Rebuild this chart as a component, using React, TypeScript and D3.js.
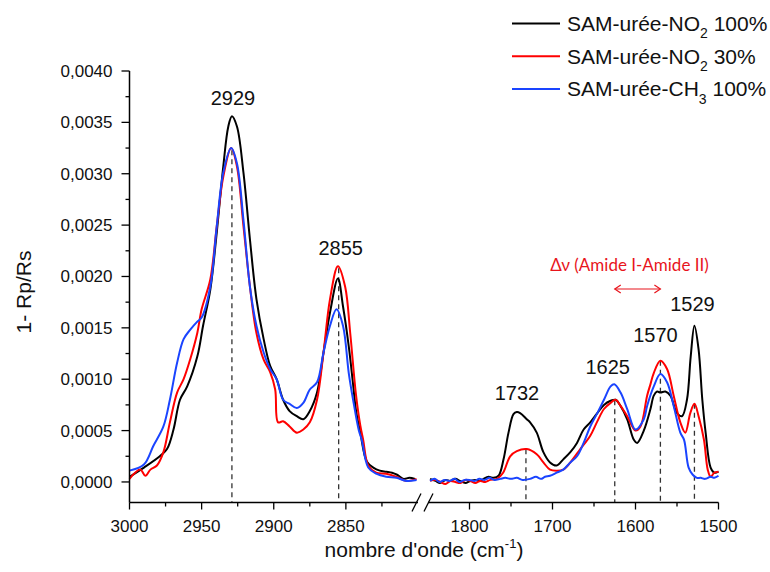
import React from 'react';
import * as d3 from 'd3';

// Broken wavenumber axis: high-frequency (CH stretch) and low-frequency (amide) windows
const HIGH_RANGE: [number, number] = [3000, 2800];
const LOW_RANGE: [number, number] = [1850, 1500];
const HIGH_TICKS = [3000, 2950, 2900, 2850];
const HIGH_MINOR = [2975, 2925, 2875, 2825];
const LOW_TICKS = [1800, 1700, 1600, 1500];
const LOW_MINOR = [1750, 1650, 1550];
const Y_DOMAIN: [number, number] = [-0.0002, 0.004];
const Y_TICKS = [0, 0.0005, 0.001, 0.0015, 0.002, 0.0025, 0.003, 0.0035, 0.004];
const Y_MINOR = [0.00025, 0.00075, 0.00125, 0.00175, 0.00225, 0.00275, 0.00325, 0.00375];

type Pt = [number, number];

// SAM-urée-NO2 100%
const NO2_100_HIGH: Pt[] = [
  [3000, 0.00005], [2990, 0.00014], [2979, 0.00025], [2974, 0.00032], [2969.5, 0.00051],
  [2965, 0.0008], [2960, 0.00093], [2953, 0.00122], [2949, 0.00152], [2944, 0.00187],
  [2939.5, 0.00243], [2935, 0.00307], [2931.5, 0.00346], [2929, 0.00356], [2925.5, 0.00346],
  [2921, 0.00301], [2916.5, 0.00236], [2912, 0.00178], [2907, 0.00139], [2902.5, 0.00113],
  [2898, 0.001], [2893.5, 0.0008], [2889, 0.00069], [2884, 0.00064], [2879.5, 0.00061],
  [2875, 0.00069], [2870, 0.00087], [2865.5, 0.00126], [2861, 0.00165], [2855.5, 0.00198],
  [2852, 0.00171], [2848, 0.00132], [2845, 0.00095], [2843, 0.0007], [2840, 0.00048],
  [2835.5, 0.0002], [2831, 0.00014], [2826.5, 0.00011], [2822, 0.0001], [2818, 0.00009],
  [2814.5, 0.00007], [2810, 0.00003], [2806, 0.00004], [2802, 0.00003],
];
const NO2_100_LOW: Pt[] = [
  [1847.5, 0.00003], [1841, 0.00001], [1835.5, -0.00001], [1829, 0.00002], [1823.5, 0.00001],
  [1817, 0.00003], [1811.5, 0.00001], [1805, -0.00001], [1799, 0.00001], [1793, 0.00002],
  [1787, 0.00001], [1783, 0.00003], [1777, 0.00005], [1771, 0.00004], [1765, 0.00006],
  [1759, 0.00022], [1753, 0.00048], [1747, 0.00066], [1743, 0.00068], [1739, 0.00067],
  [1731, 0.00061], [1727, 0.00058], [1719, 0.00048], [1711, 0.00029], [1703, 0.00019],
  [1695, 0.00016], [1687, 0.00022], [1678.5, 0.00029], [1670.5, 0.00038], [1662.5, 0.00051],
  [1654.5, 0.00058], [1646, 0.00067], [1638, 0.00075], [1630, 0.00079], [1624, 0.0008],
  [1618, 0.00074], [1610, 0.00061], [1602, 0.00041], [1598, 0.00038], [1590, 0.0005],
  [1582, 0.00071], [1578, 0.00084], [1574, 0.00088], [1570, 0.00087], [1564, 0.00088],
  [1558, 0.00084], [1550, 0.00067], [1544, 0.00064], [1538, 0.0008], [1533.5, 0.00122],
  [1529, 0.00152], [1524, 0.00129], [1519.5, 0.0008], [1515.5, 0.00048], [1509.5, 0.00014],
  [1505, 0.00009], [1500, 0.0001],
];

// SAM-urée-NO2 30%
const NO2_30_HIGH: Pt[] = [
  [3000, 0.00003], [2992.5, 0.00012], [2989, 0.00006], [2985.5, 0.00012], [2981, 0.00016],
  [2976.5, 0.00029], [2972, 0.00058], [2967, 0.00087], [2962.5, 0.001], [2958, 0.00119],
  [2953, 0.00145], [2950, 0.00168], [2944, 0.00197], [2939.5, 0.00249], [2935, 0.00297],
  [2929.5, 0.00325], [2925.5, 0.00307], [2921, 0.00249], [2916.5, 0.0019], [2912, 0.00145],
  [2907, 0.00119], [2902.5, 0.00107], [2899, 0.0009], [2897, 0.00058], [2893.5, 0.00059],
  [2889, 0.00054], [2884, 0.00048], [2879.5, 0.00051], [2875, 0.00058], [2870, 0.0008],
  [2865.5, 0.00126], [2861, 0.00178], [2855.5, 0.0021], [2850.5, 0.0019], [2847, 0.00145],
  [2843, 0.00085], [2840, 0.00055], [2838, 0.00041], [2834.5, 0.00016], [2829, 0.00009],
  [2822, 0.00008], [2815, 0.00005], [2808, 0.00001], [2801, 0.00003],
];
const NO2_30_LOW: Pt[] = [
  [1847.5, 0.00001], [1841, 0.00002], [1835, 0], [1829, -0.00002], [1823, 0.00001],
  [1817, 0], [1811, -0.00001], [1805, 0.00002], [1799, 0.00001], [1793, -0.00001],
  [1787, 0.00001], [1781, 0], [1775, 0.00002], [1767, 0.00003], [1759.5, 0.00009],
  [1751, 0.00025], [1743, 0.0003], [1731, 0.00032], [1719, 0.00027], [1711, 0.00019],
  [1703, 0.00012], [1695, 0.00011], [1687, 0.00012], [1678.5, 0.00019], [1666.5, 0.00032],
  [1654.5, 0.00045], [1646, 0.00059], [1638, 0.00071], [1630, 0.00077], [1624, 0.0008],
  [1618, 0.00074], [1610, 0.00064], [1600, 0.0005], [1594, 0.00054], [1586, 0.00084],
  [1582, 0.00095], [1578, 0.00106], [1570, 0.00118], [1562, 0.0011], [1554, 0.00084],
  [1546, 0.00058], [1540, 0.00048], [1534, 0.00067], [1529, 0.00076], [1524, 0.00064],
  [1517.5, 0.00041], [1513, 0.00012], [1509.5, 0.00005], [1505, 0.00009], [1500, 0.0001],
];

// SAM-urée-CH3 100%
const CH3_100_HIGH: Pt[] = [
  [3000, 0.00011], [2990, 0.00017], [2983.5, 0.00035], [2976.5, 0.00054], [2972, 0.0008],
  [2967, 0.00116], [2962.5, 0.00139], [2958, 0.00148], [2953, 0.00156], [2950, 0.0016],
  [2944, 0.0019], [2939.5, 0.00249], [2935, 0.00301], [2929.5, 0.00325], [2925.5, 0.0031],
  [2921, 0.00255], [2916.5, 0.0019], [2912, 0.00152], [2907, 0.00126], [2902.5, 0.0011],
  [2898, 0.001], [2893.5, 0.0008], [2889, 0.00076], [2884, 0.00072], [2879.5, 0.00077],
  [2875, 0.0009], [2870, 0.00097], [2865.5, 0.00126], [2861, 0.00152], [2856.5, 0.00168],
  [2852, 0.00152], [2848, 0.00106], [2845, 0.0008], [2841, 0.0005], [2839, 0.00041],
  [2834.5, 0.00014], [2829, 0.00008], [2822, 0.00005], [2815, 0.00004], [2808, 0.00001],
  [2801, 0.00002],
];
const CH3_100_LOW: Pt[] = [
  [1847.5, 0.00001], [1842, 0.00003], [1836, 0], [1830, 0.00002], [1824, 0.00001],
  [1818, 0.00003], [1812, 0], [1806, 0.00002], [1800, 0.00002], [1794, 0.00001],
  [1788, 0.00003], [1782, 0.00002], [1776, 0.00004], [1770, 0.00002], [1763, 0.00003],
  [1757, 0.00004], [1750, 0.00003], [1743, 0.00004], [1736, 0.00002], [1727, 0.00003],
  [1720, 0.00005], [1714, 0.00003], [1709, 0.00005], [1703, 0.00006], [1695, 0.00009],
  [1687, 0.00012], [1678.5, 0.00019], [1670.5, 0.00025], [1662.5, 0.00038], [1654.5, 0.00054],
  [1646, 0.00067], [1638, 0.0008], [1630, 0.00093], [1625.5, 0.00095], [1618, 0.00087],
  [1610, 0.00071], [1600, 0.00051], [1590, 0.00061], [1586, 0.00074], [1578, 0.00093],
  [1570, 0.00105], [1562, 0.00097], [1554, 0.00074], [1546, 0.00048], [1541.5, 0.00041],
  [1536, 0.00014], [1531, 0.00007], [1526, 0.00004], [1521.5, 0.00004], [1516, 0.00003],
  [1509.5, 0.00005], [1505, 0.00004], [1500, 0.00006],
];

const SERIES_LABELS = [
  { base: 'SAM-urée-NO', sub: '2', tail: ' 100%' },
  { base: 'SAM-urée-NO', sub: '2', tail: ' 30%' },
  { base: 'SAM-urée-CH', sub: '3', tail: ' 100%' },
];
const SERIES_COLORS = ['#000000', '#ff0000', '#1a44ff'];
const SERIES_HIGH = [NO2_100_HIGH, NO2_30_HIGH, CH3_100_HIGH];
const SERIES_LOW = [NO2_100_LOW, NO2_30_LOW, CH3_100_LOW];

// Band positions marked on the spectra (cm-1)
const PEAKS = [2929, 2855, 1732, 1625, 1570, 1529];
// Amide I / Amide II splitting
const AMIDE_PAIR: [number, number] = [1625, 1570];
const AMIDE_LABEL = 'Δν (Amide I-Amide II)';

const FONT = '"Liberation Sans", Arial, Helvetica, sans-serif';

function valueAt(pts: Pt[], w: number): number {
  for (let i = 0; i < pts.length - 1; i++) {
    const [w0, v0] = pts[i];
    const [w1, v1] = pts[i + 1];
    if ((w <= w0 && w >= w1) || (w >= w0 && w <= w1)) {
      const t = w0 === w1 ? 0 : (w - w0) / (w1 - w0);
      return v0 + t * (v1 - v0);
    }
  }
  return pts[pts.length - 1][1];
}

export default function App() {
  const xHigh = d3.scaleLinear().domain(HIGH_RANGE).range([129.5, 418]);
  const xLow = d3.scaleLinear().domain(LOW_RANGE).range([428, 718.5]);
  const y = d3.scaleLinear().domain(Y_DOMAIN).range([502.5, 71]);
  const xOf = (w: number) => (w >= 2000 ? xHigh(w) : xLow(w));
  const seriesAt = (i: number, w: number) =>
    valueAt(w >= 2000 ? SERIES_HIGH[i] : SERIES_LOW[i], w);

  const lineHigh = d3
    .line<Pt>()
    .x((d) => xHigh(d[0]))
    .y((d) => y(d[1]))
    .curve(d3.curveCatmullRom.alpha(0.5));
  const lineLow = d3
    .line<Pt>()
    .x((d) => xLow(d[0]))
    .y((d) => y(d[1]))
    .curve(d3.curveCatmullRom.alpha(0.5));

  const axisY = y(Y_DOMAIN[0]);
  const axisTop = y(Y_DOMAIN[1]);
  const x0 = xHigh(HIGH_RANGE[0]);
  const yFmt = (v: number) => d3.format('.4f')(v).replace('.', ',');

  // label placement relative to each band marker
  const labelShift: Record<number, [number, number]> = {
    2929: [1, -11],
    2855: [2, -13],
    1732: [-9, -19],
    1625: [-7, -11],
    1570: [-5, -19],
    1529: [-2, -15],
  };

  const arrowY = 289;
  const ax1 = xLow(AMIDE_PAIR[0]);
  const ax2 = xLow(AMIDE_PAIR[1]);

  return (
    <svg
      width={770}
      height={572}
      viewBox="0 0 770 572"
      style={{ position: 'absolute', left: 0, top: 0, background: '#fff' }}
      fontFamily={FONT}
    >
      <rect x={0} y={0} width={770} height={572} fill="#fff" />

      {/* band markers */}
      {PEAKS.map((w) => (
        <line
          key={'d' + w}
          x1={xOf(w)}
          x2={xOf(w)}
          y1={y(seriesAt(1, w))}
          y2={axisY}
          stroke="#333"
          strokeWidth={1.3}
          strokeDasharray="5,4"
        />
      ))}

      {/* spectra */}
      {[0, 1, 2].map((i) => (
        <g key={'s' + i} fill="none" stroke={SERIES_COLORS[i]} strokeWidth={2} strokeLinejoin="round">
          <path d={lineHigh(SERIES_HIGH[i]) || ''} />
          <path d={lineLow(SERIES_LOW[i]) || ''} />
        </g>
      ))}

      {/* band labels */}
      {PEAKS.map((w) => {
        const top = Math.min(...[0, 1, 2].map((i) => y(seriesAt(i, w))));
        const [dx, dy] = labelShift[w];
        return (
          <text key={'l' + w} x={xOf(w) + dx} y={top + dy} fontSize={20} textAnchor="middle" fill="#111">
            {w}
          </text>
        );
      })}

      {/* amide splitting annotation */}
      <text x={(ax1 + ax2) / 2 - 8} y={271} fontSize={17} textAnchor="middle" fill="#e8141c" fontFamily='Lato, "Open Sans", sans-serif'>
        {AMIDE_LABEL}
      </text>
      <g stroke="#e8141c" strokeWidth={1.2} fill="none">
        <line x1={ax1} x2={ax2} y1={arrowY} y2={arrowY} />
        <polyline points={`${ax1 + 6},${arrowY - 4} ${ax1},${arrowY} ${ax1 + 6},${arrowY + 4}`} />
        <polyline points={`${ax2 - 6},${arrowY - 4} ${ax2},${arrowY} ${ax2 - 6},${arrowY + 4}`} />
      </g>

      {/* y axis */}
      <line x1={x0} x2={x0} y1={axisTop} y2={axisY} stroke="#000" strokeWidth={1.5} />
      {Y_TICKS.map((v) => (
        <g key={'yt' + v}>
          <line x1={x0 - 8} x2={x0} y1={y(v)} y2={y(v)} stroke="#000" strokeWidth={1.3} />
          <text x={x0 - 17} y={y(v)} dy="0.35em" textAnchor="end" fontSize={17} fill="#111">
            {yFmt(v)}
          </text>
        </g>
      ))}
      {Y_MINOR.map((v) => (
        <line key={'ym' + v} x1={x0 - 4} x2={x0} y1={y(v)} y2={y(v)} stroke="#000" strokeWidth={1.3} />
      ))}

      {/* broken x axis */}
      <line x1={xHigh(HIGH_RANGE[0])} x2={xHigh(HIGH_RANGE[1])} y1={axisY} y2={axisY} stroke="#000" strokeWidth={1.5} />
      <line x1={xLow(LOW_RANGE[0])} x2={xLow(LOW_RANGE[1])} y1={axisY} y2={axisY} stroke="#000" strokeWidth={1.5} />
      {[...HIGH_TICKS.map((w) => xHigh(w)), ...LOW_TICKS.map((w) => xLow(w))].map((px, k) => (
        <line key={'xt' + k} x1={px} x2={px} y1={axisY} y2={axisY + 7} stroke="#000" strokeWidth={1.3} />
      ))}
      {[...HIGH_MINOR.map((w) => xHigh(w)), ...LOW_MINOR.map((w) => xLow(w))].map((px, k) => (
        <line key={'xm' + k} x1={px} x2={px} y1={axisY} y2={axisY + 4} stroke="#000" strokeWidth={1.3} />
      ))}
      {HIGH_TICKS.map((w) => (
        <text key={'xh' + w} x={xHigh(w)} y={531.5} textAnchor="middle" fontSize={17} fill="#111">
          {w}
        </text>
      ))}
      {LOW_TICKS.map((w) => (
        <text key={'xl' + w} x={xLow(w)} y={531.5} textAnchor="middle" fontSize={17} fill="#111">
          {w}
        </text>
      ))}
      {/* break marks */}
      <g stroke="#000" strokeWidth={1.3}>
        <line x1={xHigh(HIGH_RANGE[1]) - 6} y1={axisY + 9} x2={xHigh(HIGH_RANGE[1]) + 3} y2={axisY - 9} />
        <line x1={xLow(LOW_RANGE[0]) - 4} y1={axisY + 9} x2={xLow(LOW_RANGE[0]) + 5} y2={axisY - 9} />
      </g>

      {/* axis titles */}
      <text x={424} y={557} textAnchor="middle" fontSize={21} fill="#111">
        nombre d'onde (cm
        <tspan fontSize={13} dy={-9}>-1</tspan>
        <tspan dy={9}>)</tspan>
      </text>
      <text transform="translate(31,292) rotate(-90)" textAnchor="middle" fontSize={21} fill="#111">
        1- Rp/Rs
      </text>

      {/* legend */}
      {SERIES_LABELS.map((s, i) => {
        const ly = 23.5 + i * 32.7;
        return (
          <g key={'lg' + i}>
            <line x1={512} x2={560} y1={ly} y2={ly} stroke={SERIES_COLORS[i]} strokeWidth={2} />
            <text x={567} y={ly + 7.3} fontSize={21} fill="#111">
              {s.base}
              <tspan fontSize={14} dy={7.5}>{s.sub}</tspan>
              <tspan dy={-7.5}>{s.tail}</tspan>
            </text>
          </g>
        );
      })}
    </svg>
  );
}
